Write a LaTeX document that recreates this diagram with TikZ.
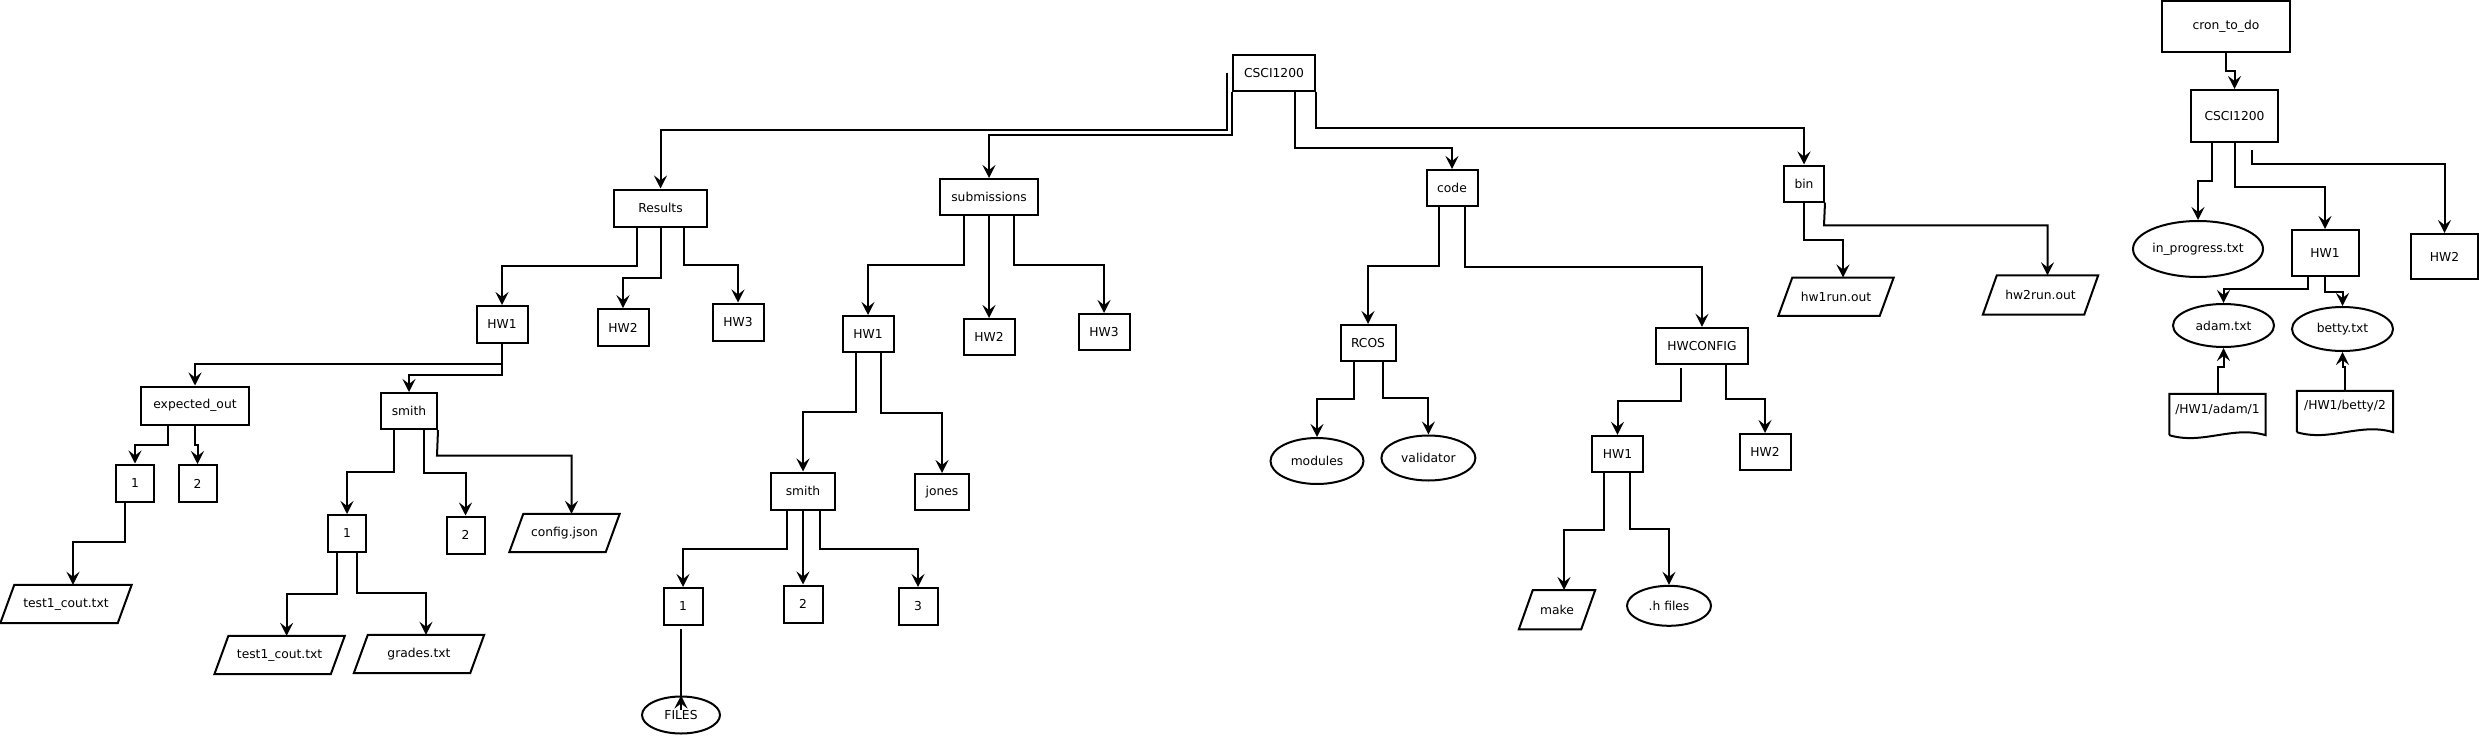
\documentclass[tikz,border=0pt]{standalone}
\usepackage{fontspec}
\setmainfont{DejaVu Sans}
\usetikzlibrary{arrows.meta,shapes.geometric,calc}
\tikzset{
  every node/.style={font=\fontsize{12.3pt}{14pt}\selectfont, inner sep=0pt},
  bx/.style 2 args={draw, line width=2pt, rectangle, minimum width=#1pt, minimum height=#2pt},
  el/.style 2 args={draw, line width=2pt, ellipse, minimum width=#1pt, minimum height=#2pt},
  arr/.style={line width=2pt, -{Stealth[length=13pt,width=13pt,inset=5pt]}},
  ln/.style={line width=2pt},
}
\newcommand{\paranode}[6]{%
  \node[minimum width=#4pt, minimum height=#5pt] (#1) at (#2,#3) {#6};
  \draw[ln] (#1.south west) -- ([xshift=14pt]#1.north west) -- (#1.north east) -- ([xshift=-14pt]#1.south east) -- cycle;
}
\newcommand{\docnode}[6]{%
  \node[minimum width=#4pt, minimum height=#5pt] (#1) at (#2,#3) {#6};
  \draw[ln] ($(#1.south west)+(0,10)$) -- (#1.north west) -- (#1.north east) -- ($(#1.south east)+(0,10)$)
    .. controls +(-0.35*#4,-10) and +(0.35*#4,10) .. ($(#1.south west)+(0,10)$);
}
\begin{document}
\begin{tikzpicture}[x=1pt,y=-1pt]
\fill[white] (0,0) rectangle (2479,736);
\useasboundingbox (0,0) rectangle (2479,736);

% ---------- main tree ----------
\node[bx={82}{36}] (csci) at (1274,72.7) {CSCI1200};
\node[bx={93}{37}] (results) at (660.5,208) {Results};
\node[bx={98}{36}] (subm) at (989,197) {submissions};
\node[bx={51}{36}] (code) at (1452,188) {code};
\node[bx={40}{36}] (bin) at (1804,183.5) {bin};

\node[bx={51}{37}] (rhwa) at (502,324.5) {HW1};
\node[bx={51}{37}] (rhwb) at (623,327.7) {HW2};
\node[bx={51}{37}] (rhwc) at (738,322) {HW3};
\node[bx={108}{38}] (expout) at (195,405.5) {expected\_out};
\node[bx={56}{36}] (rsmith) at (409,411) {smith};
\node[bx={38}{37}] (ea) at (135,483) {1};
\node[bx={38}{37}] (eb) at (197.5,483.5) {2};
\paranode{etest}{66}{604}{131}{38}{test1\_cout.txt}
\node[bx={38}{37}] (sa) at (347,533.5) {1};
\node[bx={38}{37}] (sb) at (465.5,535) {2};
\paranode{config}{564.5}{533}{110}{38}{config.json}
\paranode{stest}{279.6}{655}{130}{38}{test1\_cout.txt}
\paranode{grades}{419}{654}{130}{38}{grades.txt}

\node[bx={51}{36}] (shwa) at (868,334) {HW1};
\node[bx={51}{36}] (shwb) at (989,337) {HW2};
\node[bx={51}{36}] (shwc) at (1104,332) {HW3};
\node[bx={64}{37}] (ssmith) at (803,491) {smith};
\node[bx={54}{36}] (jones) at (942,492) {jones};
\node[bx={39}{37}] (ssa) at (683,606.5) {1};
\node[bx={39}{37}] (ssb) at (803,604) {2};
\node[bx={39}{37}] (ssc) at (918,606.5) {3};
\node[el={78}{37}] (files) at (681,715) {FILES};

\node[bx={55}{36}] (rcos) at (1368,343) {RCOS};
\node[bx={92}{36}] (hwconfig) at (1702,345.8) {HWCONFIG};
\node[el={93}{46}] (modules) at (1317,461) {modules};
\node[el={94}{45}] (validator) at (1428.4,458) {validator};
\node[bx={51}{36}] (chwa) at (1617.5,453.8) {HW1};
\node[bx={51}{36}] (chwb) at (1765,452) {HW2};
\paranode{make}{1557}{609.7}{76}{39}{make}
\node[el={84}{40}] (hfiles) at (1669,605.8) {.h files};
\paranode{hwrun1}{1836}{296.7}{115}{38}{hw1run.out}
\paranode{hwrun2}{2040.5}{295}{115}{39}{hw2run.out}

% ---------- right tree ----------
\node[bx={128}{51}] (cron) at (2226,26.5) {cron\_to\_do};
\node[bx={87}{52}] (cscib) at (2234.5,116) {CSCI1200};
\node[el={130}{56}] (inprog) at (2198,249) {in\_progress.txt};
\node[bx={67}{46}] (hwra) at (2325,253) {HW1};
\node[bx={67}{45}] (hwrb) at (2444.5,256.5) {HW2};
\node[el={101}{43}] (adam) at (2223.5,325.5) {adam.txt};
\node[el={101}{44}] (betty) at (2342.5,329) {betty.txt};
\docnode{adamdoc}{2217.5}{409.5}{96}{31}{/HW1/adam/1}
\docnode{bettydoc}{2345}{406.5}{96}{31}{/HW1/betty/2}

% ---------- connectors: main ----------
\draw[arr] ([xshift=-5pt]csci.west) -- ++(0,57) -| (results.north);
\draw[arr] (csci.south west) -- ++(0,43) -| (subm.north);
\draw[arr] (1295.3,0 |- csci.south) -- (1295.3,147.7) -| (code.north);
\draw[arr] (csci.south east) -- ++(0,36.5) -| (bin.north);

\draw[arr] (636.7,0 |- results.south) -- (636.7,266.2) -| (rhwa.north);
\draw[arr] (results.south) -- (660.5,277.8) -| (rhwb.north);
\draw[arr] (684.3,0 |- results.south) -- (684.3,265) -| (rhwc.north);
\draw[arr] (rhwa.south) -- (502,364) -| (expout.north);
\draw[arr] (rhwa.south) -- (502,375) -| (rsmith.north);
\draw[arr] (167.9,0 |- expout.south) -- (167.9,444.8) -| (ea.north);
\draw[arr] (expout.south) -- (195,445.2) -| (eb.north);
\draw[arr] (125,0 |- ea.south) -- (125,542.4) -| ([xshift=7pt]etest.north);
\draw[arr] (394.4,0 |- rsmith.south) -- (394.4,472) -| (sa.north);
\draw[arr] (424,0 |- rsmith.south) -- (424,472.9) -| (sb.north);
\draw[arr] (rsmith.south east) -- (437,455.7) -| ([xshift=7pt]config.north);
\draw[arr] (337.2,0 |- sa.south) -- (337.2,593.6) -| ([xshift=7pt]stest.north);
\draw[arr] (357,0 |- sa.south) -- (357,592.8) -| ([xshift=7pt]grades.north);

\draw[arr] (964,0 |- subm.south) -- (964,265.3) -| (shwa.north);
\draw[arr] (subm.south) -- (shwb.north);
\draw[arr] (1014.4,0 |- subm.south) -- (1014.4,264.7) -| (shwc.north);
\draw[arr] (855.5,0 |- shwa.south) -- (855.5,412.3) -| (ssmith.north);
\draw[arr] (881,0 |- shwa.south) -- (881,413) -| (jones.north);
\draw[arr] (786.5,0 |- ssmith.south) -- (786.5,548.7) -| (ssa.north);
\draw[arr] (ssmith.south) -- (ssb.north);
\draw[arr] (819.5,0 |- ssmith.south) -- (819.5,548.7) -| (ssc.north);
\draw[ln] ($(ssa.south -| files.north)+(0,3)$) -- (files.north);
\draw[arr] ($(files.north)+(0,14)$) -- (files.north);

\draw[arr] (1438.8,0 |- code.south) -- (1438.8,265.7) -| (rcos.north);
\draw[arr] (1465.2,0 |- code.south) -- (1465.2,266.7) -| (hwconfig.north);
\draw[arr] (1353.6,0 |- rcos.south) -- (1353.6,399) -| (modules.north);
\draw[arr] (1382.5,0 |- rcos.south) -- (1382.5,398) -| (validator.north);
\draw[arr] ($(1681.4,0 |- hwconfig.south)+(0,3)$) -- (1681.4,401.3) -| (chwa.north);
\draw[arr] (1725.7,0 |- hwconfig.south) -- (1725.7,399) -| (chwb.north);
\draw[arr] (1604.3,0 |- chwa.south) -- (1604.3,530) -| ([xshift=7pt]make.north);
\draw[arr] (1630.4,0 |- chwa.south) -- (1630.4,529) -| (hfiles.north);

\draw[arr] (bin.south) -- (1804,239.7) -| ([xshift=7pt]hwrun1.north);
\draw[arr] (bin.south east) -- (1824,225.3) -| ([xshift=7pt]hwrun2.north);

% ---------- connectors: right ----------
\draw[arr] (cron.south) -- (2226,70.7) -| (cscib.north);
\draw[arr] (2212,0 |- cscib.south) -- (2212,181) -| (inprog.north);
\draw[arr] (cscib.south) -- (2234.5,187) -| (hwra.north);
\draw[arr] ($(2252,0 |- cscib.south)+(0,7)$) -- (2252,164) -| (hwrb.north);
\draw[arr] (2308,0 |- hwra.south) -- (2308,289) -| (adam.north);
\draw[arr] (hwra.south) -- (2325,292) -| (betty.north);
\draw[arr] (2218,0 |- adamdoc.north) -- (2218,367) -| (adam.south);
\draw[arr] (bettydoc.north) -- (2345,367) -| (betty.south);
\end{tikzpicture}
\end{document}
